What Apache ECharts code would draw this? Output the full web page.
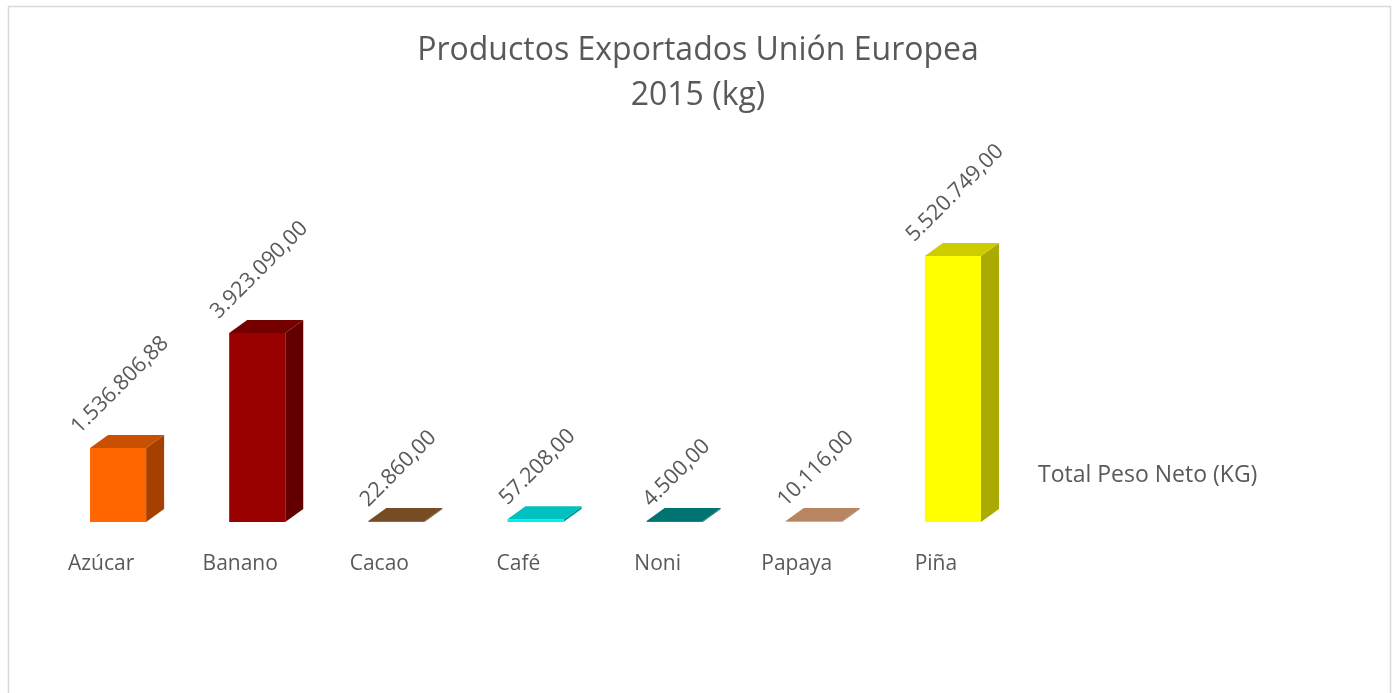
<!DOCTYPE html>
<html>
<head>
<meta charset="utf-8">
<title>Productos Exportados Unión Europea 2015</title>
<script src="https://cdn.jsdelivr.net/npm/echarts@6/dist/echarts.min.js"></script>
<style>
  html, body { margin: 0; padding: 0; background: #fff; }
  #chart { width: 1396px; height: 693px; }
</style>
</head>
<body>
<div id="chart"></div>
<script>
// datos del gráfico
const categorias = ['Azúcar', 'Banano', 'Cacao', 'Café', 'Noni', 'Papaya', 'Piña']
const pesoNeto = [1536806.88, 3923090.00, 22860.00, 57208.00, 4500.00, 10116.00, 5520749.00]
const nombreSerie = 'Total Peso Neto (KG)'

// colores de cada barra (frente, tapa, lado)
const colorFrente = ['#FF6600', '#990000', '#996633', '#00F0F0', '#009090', '#E8A67C', '#FFFF00']
const colorTapa = ['#C85000', '#750000', '#754C24', '#00C0C0', '#007373', '#B98462', '#CCCC00']
const colorLado = ['#A64000', '#620000', '#5E3C1C', '#009C9C', '#005C5C', '#946A4E', '#AAAA00']

const FONT = '"Open Sans", "Noto Sans", sans-serif'
const GRIS = '#595959'
const LABEL_SIZE = 21.5

// 1.536.806,88
const formatoEs = (v) => {
  const partes = v.toFixed(2).split('.')
  const entero = partes[0].replace(/\B(?=(\d{3})+(?!\d))/g, '.')
  return entero + ',' + partes[1]
}

// medir el ancho del texto para centrar la etiqueta girada
const ctx = document.createElement('canvas').getContext('2d')
ctx.font = LABEL_SIZE + 'px ' + FONT
const anchoTexto = (t) => ctx.measureText(t).width

const DX = 18
const DY = 13

const renderBarra = (params, api) => {
  const idx = api.value(0)
  const base = api.coord([idx, 0])
  const tope = api.coord([idx, api.value(1)])
  const bw = api.size([1, 0])[0] * 0.403
  const l = base[0] - bw / 2
  const r = base[0] + bw / 2
  const yb = base[1]
  const yt = Math.min(tope[1], yb - 1)
  const texto = formatoEs(pesoNeto[idx])
  const medio = (anchoTexto(texto) + LABEL_SIZE * 0.9) / (2 * Math.SQRT2)
  return {
    type: 'group',
    children: [
      {
        type: 'polygon',
        shape: { points: [[r, yt], [r + DX, yt - DY], [r + DX, yb - DY], [r, yb]] },
        style: { fill: colorLado[idx] }
      },
      {
        type: 'rect',
        shape: { x: l, y: yt, width: bw, height: yb - yt },
        style: { fill: colorFrente[idx] }
      },
      {
        type: 'polygon',
        shape: { points: [[l, yt], [r, yt], [r + DX, yt - DY], [l + DX, yt - DY]] },
        style: { fill: colorTapa[idx] }
      },
      {
        type: 'text',
        x: base[0] + 2,
        y: yt - DY - medio + 2,
        rotation: Math.PI / 4,
        style: {
          text: texto,
          fill: GRIS,
          font: LABEL_SIZE + 'px ' + FONT,
          align: 'center',
          verticalAlign: 'middle'
        }
      }
    ]
  }
}

const chart = echarts.init(document.getElementById('chart'))

chart.setOption({
  animation: false,
  backgroundColor: '#fff',
  title: {
    text: 'Productos Exportados Unión Europea\n2015 (kg)',
    left: 'center',
    top: 23,
    textStyle: {
      fontFamily: FONT,
      fontWeight: 'normal',
      fontSize: 32,
      lineHeight: 45,
      color: GRIS
    }
  },
  legend: {
    data: [{ name: nombreSerie, icon: 'none' }],
    left: 1028,
    top: 459,
    itemWidth: 0,
    selectedMode: false,
    textStyle: { fontFamily: FONT, fontSize: 23, color: GRIS }
  },
  graphic: [{
    type: 'rect',
    shape: { x: 8.5, y: 6.5, width: 1382, height: 720 },
    style: { fill: 'none', stroke: '#D9D9D9', lineWidth: 1.5 },
    silent: true,
    z: -1
  }],
  grid: { left: 48.5, right: 373.5, top: 233, bottom: 171 },
  xAxis: {
    type: 'category',
    data: categorias,
    axisLine: { show: false },
    axisTick: { show: false },
    axisLabel: {
      margin: 32,
      padding: [0, 34, 0, 0],
      fontFamily: FONT,
      fontSize: 21,
      color: GRIS
    }
  },
  yAxis: {
    type: 'value',
    min: 0,
    max: 6000000,
    show: false,
    splitLine: { show: false }
  },
  series: [{
    name: nombreSerie,
    type: 'custom',
    renderItem: renderBarra,
    encode: { x: 0, y: 1 },
    data: pesoNeto.map((v, i) => [i, v])
  }]
})
</script>
</body>
</html>
